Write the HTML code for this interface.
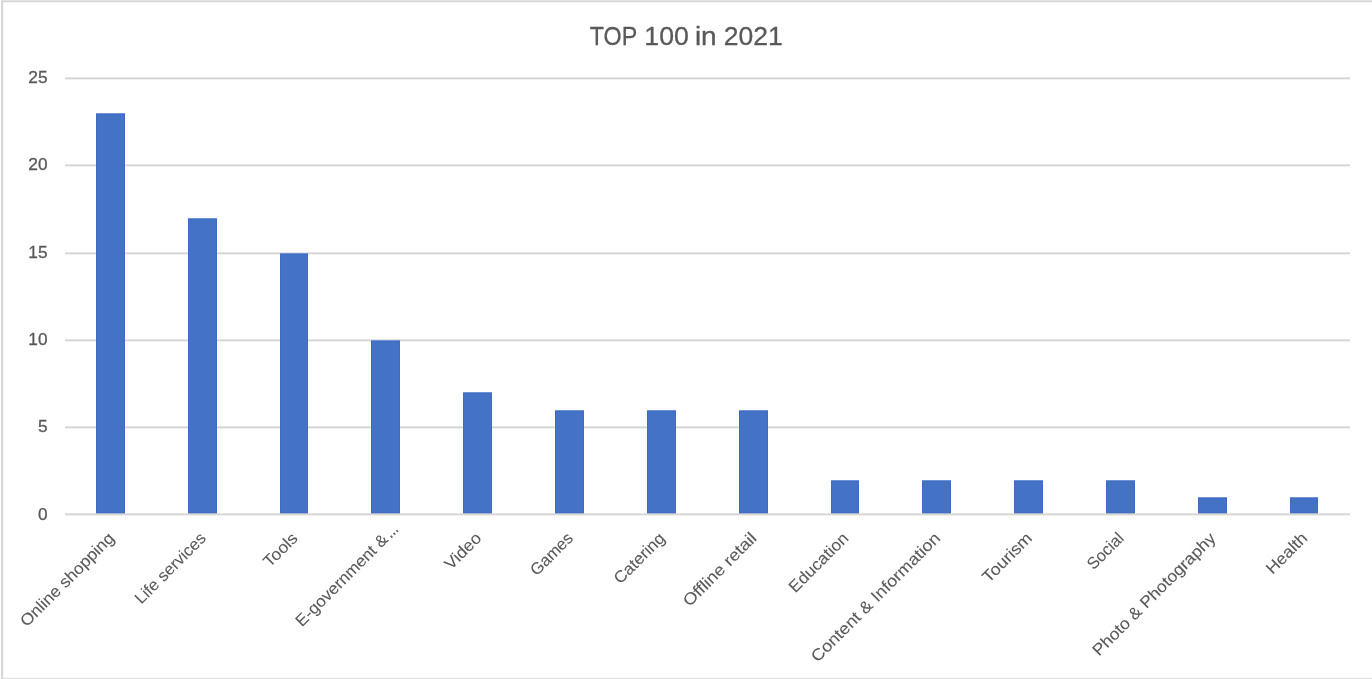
<!DOCTYPE html>
<html lang="en">
<head>
<meta charset="utf-8">
<title>TOP 100 in 2021</title>
<style>
html,body{margin:0;padding:0;background:#fff;}
body{width:1372px;height:679px;overflow:hidden;font-family:"Liberation Sans",sans-serif;}
svg{display:block;position:absolute;left:0;top:0;}
text{font-family:"Liberation Sans",sans-serif;fill:#595959;stroke:#595959;stroke-width:0;}
.val text{stroke-width:0.3px;}
.cat text{stroke-width:0.08px;}
.ax{font-size:16.4px;}
.title{font-size:26px;stroke-width:0.3px;}
</style>
</head>
<body>
<svg width="1372" height="679" viewBox="0 0 1372 679">
<rect x="0" y="0" width="1372" height="679" fill="#ffffff"/>
<!-- chart frame -->
<rect x="1" y="0" width="1371" height="1" fill="#e2e2e2"/>
<rect x="1" y="1" width="1371" height="1" fill="#d7d7d7"/>
<rect x="3" y="2" width="1369" height="1" fill="#f6f6f6"/>
<rect x="1" y="677" width="1371" height="1" fill="#f8f8f8"/>
<rect x="1" y="678" width="1371" height="1" fill="#e2e2e2"/>
<rect x="1" y="1" width="1" height="678" fill="#dcdcdc"/>
<rect x="2" y="1" width="1" height="678" fill="#d4d4d4"/>
<rect x="3" y="3" width="1" height="674" fill="#f9f9f9"/>
<!-- gridlines -->
<g fill="#d9d9d9">
<rect x="65" y="77" width="1285" height="1" fill="#e5e5e5"/><rect x="65" y="78" width="1285" height="1" fill="#d5d5d5"/><rect x="65" y="79" width="1285" height="1" fill="#f1f1f1"/>
<rect x="65" y="164" width="1285" height="1" fill="#e5e5e5"/><rect x="65" y="165" width="1285" height="1" fill="#d5d5d5"/><rect x="65" y="166" width="1285" height="1" fill="#f1f1f1"/>
<rect x="65" y="252" width="1285" height="1" fill="#e5e5e5"/><rect x="65" y="253" width="1285" height="1" fill="#d5d5d5"/><rect x="65" y="254" width="1285" height="1" fill="#f1f1f1"/>
<rect x="65" y="339" width="1285" height="1" fill="#e5e5e5"/><rect x="65" y="340" width="1285" height="1" fill="#d5d5d5"/><rect x="65" y="341" width="1285" height="1" fill="#f1f1f1"/>
<rect x="65" y="426" width="1285" height="1" fill="#e5e5e5"/><rect x="65" y="427" width="1285" height="1" fill="#d5d5d5"/><rect x="65" y="428" width="1285" height="1" fill="#f1f1f1"/>
<rect x="65" y="513" width="1285" height="1" fill="#e5e5e5"/><rect x="65" y="514" width="1285" height="1" fill="#d5d5d5"/><rect x="65" y="515" width="1285" height="1" fill="#f1f1f1"/>
</g>
<!-- value axis labels -->
<g class="ax val" text-anchor="end">
<text x="47.5" y="82.75" font-size="16.8" textLength="19.2" lengthAdjust="spacingAndGlyphs">25</text>
<text x="47.5" y="169.75" font-size="16.8" textLength="19.2" lengthAdjust="spacingAndGlyphs">20</text>
<text x="47.5" y="257.75" font-size="16.8" textLength="19.2" lengthAdjust="spacingAndGlyphs">15</text>
<text x="47.5" y="344.75" font-size="16.8" textLength="19.2" lengthAdjust="spacingAndGlyphs">10</text>
<text x="47.5" y="431.75" font-size="16.8" textLength="9.6" lengthAdjust="spacingAndGlyphs">5</text>
<text x="47.5" y="519.65" font-size="16.8" textLength="9.6" lengthAdjust="spacingAndGlyphs">0</text>
</g>
<!-- bars -->
<g fill="#4472c4">
<rect x="96" y="113" width="29" height="400"/>
<rect x="188" y="218" width="29" height="295"/>
<rect x="280" y="253" width="28" height="260"/>
<rect x="371" y="340" width="29" height="173"/>
<rect x="463" y="392" width="29" height="121"/>
<rect x="555" y="410" width="29" height="103"/>
<rect x="647" y="410" width="29" height="103"/>
<rect x="739" y="410" width="29" height="103"/>
<rect x="831" y="480" width="28" height="33"/>
<rect x="922" y="480" width="29" height="33"/>
<rect x="1014" y="480" width="29" height="33"/>
<rect x="1106" y="480" width="29" height="33"/>
<rect x="1198" y="497" width="29" height="16"/>
<rect x="1290" y="497" width="28" height="16"/>
</g>
<g><rect x="96" y="114" width="1" height="399" fill="#3e6bc1"/><rect x="124" y="114" width="1" height="399" fill="#3e6bc1"/><rect x="96" y="114" width="29" height="1" fill="#406ec3"/><rect x="96" y="512" width="29" height="1" fill="#406ec3"/><rect x="96" y="513" width="29" height="1" fill="#aab6cf"/><rect x="96" y="113" width="29" height="1" fill="#7193d3"/>
<rect x="188" y="219" width="1" height="294" fill="#3e6bc1"/><rect x="216" y="219" width="1" height="294" fill="#3e6bc1"/><rect x="188" y="219" width="29" height="1" fill="#406ec3"/><rect x="188" y="512" width="29" height="1" fill="#406ec3"/><rect x="188" y="513" width="29" height="1" fill="#aab6cf"/><rect x="188" y="218" width="29" height="1" fill="#7193d3"/>
<rect x="280" y="254" width="1" height="259" fill="#3e6bc1"/><rect x="307" y="254" width="1" height="259" fill="#3e6bc1"/><rect x="280" y="254" width="28" height="1" fill="#406ec3"/><rect x="280" y="512" width="28" height="1" fill="#406ec3"/><rect x="280" y="513" width="28" height="1" fill="#aab6cf"/><rect x="280" y="253" width="28" height="1" fill="#7193d3"/>
<rect x="371" y="341" width="1" height="172" fill="#3e6bc1"/><rect x="399" y="341" width="1" height="172" fill="#3e6bc1"/><rect x="371" y="341" width="29" height="1" fill="#406ec3"/><rect x="371" y="512" width="29" height="1" fill="#406ec3"/><rect x="371" y="513" width="29" height="1" fill="#aab6cf"/><rect x="371" y="340" width="29" height="1" fill="#7193d3"/>
<rect x="463" y="393" width="1" height="120" fill="#3e6bc1"/><rect x="491" y="393" width="1" height="120" fill="#3e6bc1"/><rect x="463" y="393" width="29" height="1" fill="#406ec3"/><rect x="463" y="512" width="29" height="1" fill="#406ec3"/><rect x="463" y="513" width="29" height="1" fill="#aab6cf"/><rect x="463" y="392" width="29" height="1" fill="#7193d3"/>
<rect x="555" y="411" width="1" height="102" fill="#3e6bc1"/><rect x="583" y="411" width="1" height="102" fill="#3e6bc1"/><rect x="555" y="411" width="29" height="1" fill="#406ec3"/><rect x="555" y="512" width="29" height="1" fill="#406ec3"/><rect x="555" y="513" width="29" height="1" fill="#aab6cf"/><rect x="555" y="410" width="29" height="1" fill="#7193d3"/>
<rect x="647" y="411" width="1" height="102" fill="#3e6bc1"/><rect x="675" y="411" width="1" height="102" fill="#3e6bc1"/><rect x="647" y="411" width="29" height="1" fill="#406ec3"/><rect x="647" y="512" width="29" height="1" fill="#406ec3"/><rect x="647" y="513" width="29" height="1" fill="#aab6cf"/><rect x="647" y="410" width="29" height="1" fill="#7193d3"/>
<rect x="739" y="411" width="1" height="102" fill="#3e6bc1"/><rect x="767" y="411" width="1" height="102" fill="#3e6bc1"/><rect x="739" y="411" width="29" height="1" fill="#406ec3"/><rect x="739" y="512" width="29" height="1" fill="#406ec3"/><rect x="739" y="513" width="29" height="1" fill="#aab6cf"/><rect x="739" y="410" width="29" height="1" fill="#7193d3"/>
<rect x="831" y="481" width="1" height="32" fill="#3e6bc1"/><rect x="858" y="481" width="1" height="32" fill="#3e6bc1"/><rect x="831" y="481" width="28" height="1" fill="#406ec3"/><rect x="831" y="512" width="28" height="1" fill="#406ec3"/><rect x="831" y="513" width="28" height="1" fill="#aab6cf"/><rect x="831" y="480" width="28" height="1" fill="#7193d3"/>
<rect x="922" y="481" width="1" height="32" fill="#3e6bc1"/><rect x="950" y="481" width="1" height="32" fill="#3e6bc1"/><rect x="922" y="481" width="29" height="1" fill="#406ec3"/><rect x="922" y="512" width="29" height="1" fill="#406ec3"/><rect x="922" y="513" width="29" height="1" fill="#aab6cf"/><rect x="922" y="480" width="29" height="1" fill="#7193d3"/>
<rect x="1014" y="481" width="1" height="32" fill="#3e6bc1"/><rect x="1042" y="481" width="1" height="32" fill="#3e6bc1"/><rect x="1014" y="481" width="29" height="1" fill="#406ec3"/><rect x="1014" y="512" width="29" height="1" fill="#406ec3"/><rect x="1014" y="513" width="29" height="1" fill="#aab6cf"/><rect x="1014" y="480" width="29" height="1" fill="#7193d3"/>
<rect x="1106" y="481" width="1" height="32" fill="#3e6bc1"/><rect x="1134" y="481" width="1" height="32" fill="#3e6bc1"/><rect x="1106" y="481" width="29" height="1" fill="#406ec3"/><rect x="1106" y="512" width="29" height="1" fill="#406ec3"/><rect x="1106" y="513" width="29" height="1" fill="#aab6cf"/><rect x="1106" y="480" width="29" height="1" fill="#7193d3"/>
<rect x="1198" y="498" width="1" height="15" fill="#3e6bc1"/><rect x="1226" y="498" width="1" height="15" fill="#3e6bc1"/><rect x="1198" y="498" width="29" height="1" fill="#406ec3"/><rect x="1198" y="512" width="29" height="1" fill="#406ec3"/><rect x="1198" y="513" width="29" height="1" fill="#aab6cf"/><rect x="1198" y="497" width="29" height="1" fill="#7193d3"/>
<rect x="1290" y="498" width="1" height="15" fill="#3e6bc1"/><rect x="1317" y="498" width="1" height="15" fill="#3e6bc1"/><rect x="1290" y="498" width="28" height="1" fill="#406ec3"/><rect x="1290" y="512" width="28" height="1" fill="#406ec3"/><rect x="1290" y="513" width="28" height="1" fill="#aab6cf"/><rect x="1290" y="497" width="28" height="1" fill="#7193d3"/></g>
<!-- category labels -->
<g class="ax cat" text-anchor="end">
<text transform="translate(115.19,539.20) rotate(-45)" x="0" y="0" textLength="125.0" lengthAdjust="spacingAndGlyphs">Online shopping</text>
<text transform="translate(206.98,539.20) rotate(-45)" x="0" y="0" textLength="92.8" lengthAdjust="spacingAndGlyphs">Life services</text>
<text transform="translate(298.76,539.20) rotate(-45)" x="0" y="0" textLength="40.9" lengthAdjust="spacingAndGlyphs">Tools</text>
<text transform="translate(400.55,529.00) rotate(-45)" y="0" text-anchor="start"><tspan x="-139.3" textLength="123.1" lengthAdjust="spacingAndGlyphs">E-government &amp;</tspan><tspan x="-14.2" textLength="12.8" lengthAdjust="spacingAndGlyphs" style="stroke-width:0.5px">…</tspan></text>
<text transform="translate(482.34,539.20) rotate(-45)" x="0" y="0" textLength="44.4" lengthAdjust="spacingAndGlyphs">Video</text>
<text transform="translate(574.12,539.20) rotate(-45)" x="0" y="0" textLength="52.9" lengthAdjust="spacingAndGlyphs">Games</text>
<text transform="translate(665.91,539.20) rotate(-45)" x="0" y="0" textLength="64.6" lengthAdjust="spacingAndGlyphs">Catering</text>
<text transform="translate(757.69,539.20) rotate(-45)" x="0" y="0" textLength="96.4" lengthAdjust="spacingAndGlyphs">Offline retail</text>
<text transform="translate(849.48,539.20) rotate(-45)" x="0" y="0" textLength="76.7" lengthAdjust="spacingAndGlyphs">Education</text>
<text transform="translate(941.26,539.20) rotate(-45)" x="0" y="0" textLength="175.1" lengthAdjust="spacingAndGlyphs">Content &amp; Information</text>
<text transform="translate(1033.05,539.20) rotate(-45)" x="0" y="0" textLength="62.5" lengthAdjust="spacingAndGlyphs">Tourism</text>
<text transform="translate(1124.84,539.20) rotate(-45)" x="0" y="0" textLength="44.4" lengthAdjust="spacingAndGlyphs">Social</text>
<text transform="translate(1216.62,539.20) rotate(-45)" x="0" y="0" textLength="166.3" lengthAdjust="spacingAndGlyphs">Photo &amp; Photography</text>
<text transform="translate(1308.41,539.20) rotate(-45)" x="0" y="0" textLength="50.8" lengthAdjust="spacingAndGlyphs">Health</text>
</g>
<!-- title -->
<text class="title" y="45"><tspan x="589.80" textLength="47.00" lengthAdjust="spacingAndGlyphs">TOP</tspan> <tspan x="644.30" textLength="44.50" lengthAdjust="spacingAndGlyphs">100</tspan> <tspan x="694.90" textLength="21.80" lengthAdjust="spacingAndGlyphs">in</tspan> <tspan x="723.80" textLength="59.00" lengthAdjust="spacingAndGlyphs">2021</tspan></text>
</svg>
</body>
</html>
